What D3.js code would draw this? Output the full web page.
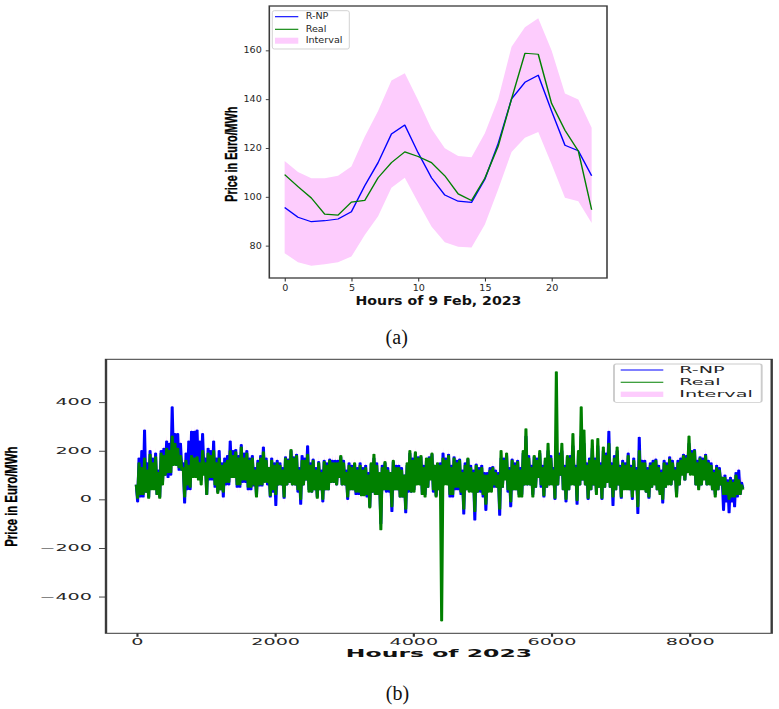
<!DOCTYPE html>
<html>
<head>
<meta charset="utf-8">
<script src="https://cdn.jsdelivr.net/npm/d3@7"></script>
<style>
  body { margin: 0; background: #fff; }
  svg { display: block; }
</style>
</head>
<body>
<div id="chart"></div>
<script>
// ---- (a) 9 Feb 2023, hourly ----
var hoursA = d3.range(24);
var rnpA = [95.6, 91.6, 89.8, 90.2, 90.9, 93.9, 104.5, 114.0, 125.7, 129.4, 118.0, 107.8,
            100.7, 98.2, 97.7, 107.2, 121.9, 140.1, 146.9, 149.8, 135.1, 121.1, 118.9, 108.6];
var realA = [109.1, 104.2, 99.5, 92.9, 92.5, 97.8, 98.5, 107.8, 114.0, 118.4, 116.5, 114.0,
             108.6, 101.2, 98.5, 107.6, 120.8, 140.1, 158.8, 158.4, 138.2, 127.3, 118.8, 94.7];
var upperA = [114.7, 110.2, 107.6, 107.6, 108.6, 112.4, 124.6, 135.1, 147.6, 150.6, 139.6, 127.9,
              119.9, 116.7, 116.2, 126.0, 140.1, 161.5, 169.5, 173.1, 159.9, 142.3, 139.9, 128.3];
var lowerA = [76.9, 73.2, 71.8, 72.4, 73.2, 75.5, 84.4, 92.0, 103.7, 107.8, 97.7, 87.8,
              81.4, 79.5, 79.2, 88.7, 103.1, 118.4, 124.2, 126.5, 113.3, 99.6, 98.2, 89.3];
var xTicksA = [0, 5, 10, 15, 20];
var yTicksA = [80, 100, 120, 140, 160];

// ---- (b) whole year 2023: highest and lowest price in every 40-hour window ----
var windowB = 40;
var realHiB = [60,150,130,170,120,185,150,175,110,190,180,210,200,260,230,210,180,130,160,140,180,170,175,150,200,
               150,190,180,200,150,170,140,150,160,200,180,195,170,215,170,190,160,170,120,150,170,195,160,130,160,
               140,150,140,120,170,160,205,170,180,120,160,160,185,140,160,120,150,110,155,140,160,150,150,150,180,
               150,110,140,130,150,120,140,120,130,100,150,185,140,110,130,155,120,110,160,130,130,120,100,150,200,
               160,195,170,180,130,170,170,190,140,150,140,170,160,180,130,170,150,160,110,140,170,130,110,140,120,
               130,100,100,120,130,110,100,200,160,190,120,160,140,155,120,200,290,170,130,180,160,200,130,170,230,
               170,120,525,180,230,130,180,170,270,130,200,380,285,140,160,245,160,250,140,215,180,230,140,170,215,
               130,150,140,180,130,160,120,200,150,150,120,140,150,160,130,110,150,140,165,150,120,150,160,180,170,
               260,190,200,150,170,160,180,150,140,110,130,120,90,90,70,80,70,100,80,60];
var realLoB = [5,20,20,30,5,40,40,20,5,60,100,110,110,140,140,130,120,10,60,50,90,90,80,60,100,
               20,90,90,60,25,40,30,70,70,90,90,60,60,80,80,50,50,60,10,60,60,70,70,15,40,
               20,60,60,10,60,70,60,60,40,0,60,80,30,30,40,5,40,0,40,40,70,70,60,90,60,
               60,10,40,40,30,30,15,15,20,-35,30,20,20,-125,40,40,40,-30,40,40,10,10,-40,40,30,
               30,60,60,20,10,50,80,40,10,40,-500,60,60,20,20,50,50,30,-40,40,30,30,-50,30,40,
               20,-20,30,30,60,50,-40,50,80,40,-10,40,40,10,10,60,60,60,10,50,90,60,15,50,60,
               60,5,60,100,40,0,40,60,60,-5,60,80,60,5,40,60,20,50,5,50,70,50,10,40,60,
               10,40,40,40,10,40,-30,40,40,30,10,50,60,40,20,0,50,60,60,80,10,60,100,80,110,
               100,100,60,40,60,80,60,60,40,10,40,60,20,20,0,10,10,20,20,40];
var rnpHiB = [60,170,200,285,150,200,170,190,120,200,210,240,230,380,270,270,230,150,190,240,280,280,285,240,270,
              170,210,200,240,170,200,150,170,180,240,200,205,180,225,190,200,170,180,130,160,180,215,170,130,170,
              150,160,150,130,175,165,200,175,185,130,180,170,220,150,165,130,155,120,160,150,165,160,160,160,175,
              160,120,150,140,145,130,150,130,140,110,145,170,150,100,140,150,130,110,155,140,140,130,100,140,190,
              170,190,175,175,140,160,175,185,140,140,150,190,170,185,140,175,160,165,120,150,165,140,120,145,130,
              140,110,110,130,135,120,110,170,170,180,130,165,150,160,130,190,260,180,140,175,170,190,140,160,200,
              180,130,220,190,200,140,175,180,220,140,190,260,230,150,170,210,170,220,150,200,190,280,150,180,200,
              140,160,150,190,140,170,130,255,160,160,130,150,160,165,140,120,160,150,175,160,130,160,170,185,180,
              230,200,205,160,175,170,185,160,150,120,140,130,90,100,80,90,80,110,120,70];
var rnpLoB = [-10,10,10,30,10,50,60,20,10,70,100,90,100,150,140,120,120,-15,40,40,110,110,100,80,110,
              20,80,80,50,30,40,10,60,60,90,90,50,50,70,70,40,40,55,15,55,55,80,60,10,30,
              -25,60,60,5,60,70,60,60,30,-20,60,80,40,30,40,10,40,-10,40,40,70,70,60,90,60,
              60,0,40,40,20,20,20,20,10,-30,30,20,20,-100,40,30,30,-50,40,40,10,10,-55,30,30,
              40,70,70,20,20,50,90,30,15,40,-15,70,70,10,10,40,40,20,-60,40,40,40,-85,30,30,
              10,-45,40,40,50,50,-65,50,90,30,-30,40,40,20,20,60,60,60,20,50,90,50,10,50,60,
              70,0,60,100,40,-10,40,70,60,-20,60,80,60,0,40,60,30,50,0,50,80,50,-25,40,60,
              5,50,50,40,0,40,-58,50,50,30,5,50,70,40,30,-15,50,70,60,90,20,60,110,80,120,
              110,110,60,50,60,90,60,70,40,20,40,60,-45,-10,-55,-10,-30,10,20,45];
var bandB = 24;   // half width of the interval around R-NP
var xTicksB = [0, 2000, 4000, 6000, 8000];
var yTicksB = [-400, -200, 0, 200, 400];

var legendNames = ["R-NP", "Real", "Interval"];
var colBlue = "#0000ff", colGreen = "#008000", colPink = "#fdccfd";

var dataA = hoursA.map((h, i) => ({ x: h, rnp: rnpA[i], real: realA[i], hi: upperA[i], lo: lowerA[i] }));

// each window gives two points: its high, then its low half a window later
var dataB = [];
realHiB.forEach((v, i) => {
  dataB.push({ x: i * windowB, real: v, rnp: rnpHiB[i], hi: rnpHiB[i] + bandB, lo: rnpHiB[i] - bandB });
  dataB.push({ x: i * windowB + windowB / 2, real: realLoB[i], rnp: rnpLoB[i], hi: rnpLoB[i] + bandB, lo: rnpLoB[i] - bandB });
});

var svg = d3.select("#chart").append("svg").attr("width", 779).attr("height", 709);

// matplotlib style 5% margins
function padDomain(lo, hi) {
  var m = (hi - lo) * 0.05;
  return [lo - m, hi + m];
}

function panel(o, data) {
  // each panel is stretched horizontally like the source figure
  var g = svg.append("g").attr("transform", `translate(${o.left},0) scale(${o.sx},1)`);
  var w = (o.right - o.left) / o.sx;
  var x = d3.scaleLinear().domain(padDomain(o.xExtent[0], o.xExtent[1])).range([0, w]);
  var y = d3.scaleLinear().domain(padDomain(o.yExtent[0], o.yExtent[1])).range([o.bottom, o.top]);

  g.append("path").datum(data)
    .attr("fill", colPink)
    .attr("d", d3.area().x(d => x(d.x)).y0(d => y(d.lo)).y1(d => y(d.hi)));

  var line = key => d3.line().x(d => x(d.x)).y(d => y(d[key]));
  g.append("path").datum(data)
    .attr("fill", "none").attr("stroke", colBlue).attr("stroke-width", o.lw)
    .attr("stroke-linejoin", "round").attr("d", line("rnp"));
  g.append("path").datum(data)
    .attr("fill", "none").attr("stroke", colGreen).attr("stroke-width", o.lw)
    .attr("stroke-linejoin", "round").attr("d", line("real"));

  // axes
  var xa = g.append("g").attr("transform", `translate(0,${o.bottom})`)
    .call(d3.axisBottom(x).tickValues(o.xTicks).tickFormat(d => String(d)).tickSize(3.5).tickPadding(o.xPad));
  var ya = g.append("g")
    .call(d3.axisLeft(y).tickValues(o.yTicks).tickFormat(d => String(d).replace("-", "\u2212"))
      .tickSize(o.yTick / o.sx).tickPadding(o.yPad / o.sx));
  [xa, ya].forEach(a => {
    a.select(".domain").remove();
    a.selectAll("line").attr("stroke", "#333").attr("stroke-width", 0.9);
    a.selectAll("text").attr("fill", "#262626").attr("font-size", 8)
      .attr("font-family", "'DejaVu Sans', sans-serif");
  });

  // frame
  g.append("rect").attr("x", 0).attr("y", o.top).attr("width", w).attr("height", o.bottom - o.top)
    .attr("fill", "none").attr("stroke", "#3a3a3a").attr("stroke-width", o.frame);

  // x label
  g.append("text")
    .attr("x", (o.xLabelX - o.left) / o.sx).attr("y", o.xLabelY)
    .attr("text-anchor", "middle").attr("font-weight", "bold")
    .attr("font-family", "'DejaVu Sans', sans-serif").attr("font-size", o.xLabelSize)
    .attr("fill", "#111").text(o.xLabel);

  // y label (not stretched)
  svg.append("text")
    .attr("transform", `translate(${o.yLabelX},${o.yLabelY}) rotate(-90)`)
    .attr("text-anchor", "middle").attr("font-weight", "bold")
    .attr("font-family", "'Liberation Sans Narrow', 'Arial Narrow', 'Liberation Sans', sans-serif")
    .attr("font-size", o.yLabelSize)
    .attr("textLength", o.yLabelLen).attr("lengthAdjust", "spacingAndGlyphs")
    .attr("fill", "#000").attr("stroke", "#000").attr("stroke-width", 0.35)
    .text("Price in Euro/MWh");

  // legend
  var L = o.legend;
  var lg = svg.append("g").attr("transform", `translate(${L.x},${L.y}) scale(${o.sx},1)`);
  lg.append("rect").attr("x", 0).attr("y", 0).attr("width", L.w / o.sx).attr("height", L.h)
    .attr("rx", 2 / o.sx).attr("ry", 2)
    .attr("fill", "#fff").attr("fill-opacity", 0.8)
    .attr("stroke", "#cccccc").attr("stroke-width", 0.8);
  var kinds = [colBlue, colGreen, colPink];
  legendNames.forEach((name, i) => {
    var ry = L.rows[i];
    if (i < 2) {
      lg.append("line").attr("x1", L.x1 / o.sx).attr("x2", L.x2 / o.sx)
        .attr("y1", ry).attr("y2", ry).attr("stroke", kinds[i]).attr("stroke-width", 1.1);
    } else {
      lg.append("rect").attr("x", L.x1 / o.sx).attr("y", ry - L.sw / 2)
        .attr("width", (L.x2 - L.x1) / o.sx).attr("height", L.sw).attr("fill", colPink);
    }
    lg.append("text").attr("x", L.tx / o.sx).attr("y", ry).attr("dy", "0.35em")
      .attr("font-family", "'DejaVu Sans', sans-serif").attr("font-size", 8)
      .attr("fill", "#262626").text(name);
  });
}

function yExtent(data) {
  return [d3.min(data, d => Math.min(d.lo, d.real, d.rnp)), d3.max(data, d => Math.max(d.hi, d.real, d.rnp))];
}

panel({
  left: 269.3, right: 607, top: 6, bottom: 278, sx: 1.2, lw: 1.2, frame: 1.3,
  xExtent: [0, 23], yExtent: yExtent(dataA),
  xTicks: xTicksA, yTicks: yTicksA, xPad: 3.5, yTick: 3.5, yPad: 4,
  xLabel: "Hours of 9 Feb, 2023", xLabelX: 438.5, xLabelY: 305, xLabelSize: 11.8,
  yLabelX: 237, yLabelY: 154.2, yLabelSize: 16, yLabelLen: 95,
  legend: { x: 272.3, y: 10.7, w: 77, h: 38.3, rows: [6, 18.6, 30], x1: 2.7, x2: 26, tx: 33.4, sw: 6 }
}, dataA);

panel({
  left: 106, right: 771.7, top: 359.3, bottom: 633.3, sx: 2.4, lw: 1.25, frame: 1,
  xExtent: [0, 8759], yExtent: yExtent(dataB),
  xTicks: xTicksB, yTicks: yTicksB, xPad: 2.5, yTick: 7, yPad: 7,
  xLabel: "Hours of 2023", xLabelX: 439, xLabelY: 657.3, xLabelSize: 9.8,
  yLabelX: 17, yLabelY: 496.7, yLabelSize: 16, yLabelLen: 100,
  legend: { x: 614, y: 364, w: 147.7, h: 38.3, rows: [6, 18.3, 30.3], x1: 6.7, x2: 49.3, tx: 65.3, sw: 5.3 }
}, dataB);

// sub-figure captions
[["(a)", 396.7, 344], ["(b)", 397.5, 700]].forEach(c => {
  svg.append("text").attr("x", c[1]).attr("y", c[2]).attr("text-anchor", "middle")
    .attr("font-family", "'Liberation Serif', 'DejaVu Serif', serif").attr("font-size", 20)
    .attr("fill", "#111").text(c[0]);
});
</script>
</body>
</html>
